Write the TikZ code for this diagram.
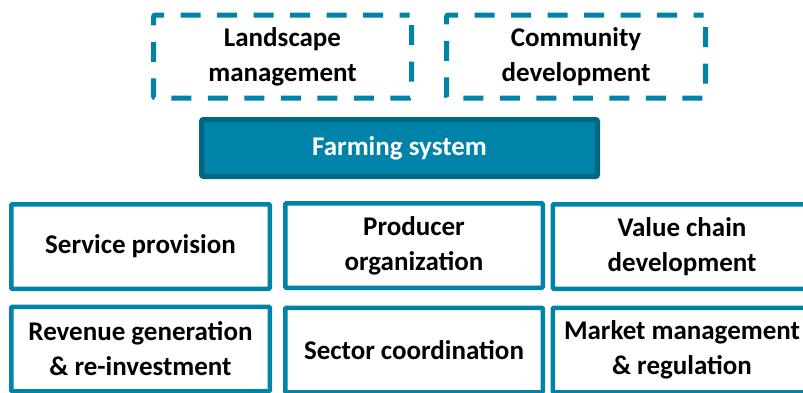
\documentclass[tikz,border=0pt]{standalone}
\usepackage{fontspec}
\setmainfont{Carlito}
\definecolor{boxblue}{RGB}{0,131,169}
\definecolor{boxdark}{RGB}{0,102,130}
\begin{document}
\begin{tikzpicture}[x=1pt, y=-1pt,
    outer/.style={draw=boxblue, line width=5pt, dash pattern=on 20pt off 16.5pt, dash phase=10pt, rounded corners=2pt, minimum width=258pt, minimum height=83pt, align=center, inner sep=0pt, font=\fontsize{27}{35}\selectfont\bfseries},
    core/.style={draw=boxdark, fill=boxblue, line width=5pt, rounded corners=2pt, minimum width=396pt, minimum height=57pt, text=white, inner sep=0pt, font=\fontsize{27}{35}\selectfont\bfseries},
    area/.style={draw=boxblue, line width=4.5pt, rounded corners=1pt, minimum width=258.5pt, minimum height=84.5pt, align=center, inner sep=0pt, font=\fontsize{27}{35}\selectfont\bfseries}]
    \useasboundingbox (0,0) rectangle (803,392);

    % outer context
    \node (landscape) [outer] at (282.5,56.5) {Landscape\\management};
    \node (community) [outer, minimum width=259pt] at (576,56.5) {Community\\development};

    \node (farming) [core] at (399.5,148) {Farming system};

    % support functions
    \node (service) [area] at (140.5,246.5) {Service provision};
    \node (producer) [area, minimum width=257.5pt] at (414,245.5) {Producer\\organization};
    \node (valuechain) [area] at (682,246.5) {Value chain\\development};
    \node (revenue) [area] at (140.5,349) {Revenue generation\\\& re-investment};
    \node (sector) [area, minimum width=257.5pt] at (414,350) {Sector coordination};
    \node (market) [area] at (682,350) {Market management\\\& regulation};
\end{tikzpicture}
\end{document}
